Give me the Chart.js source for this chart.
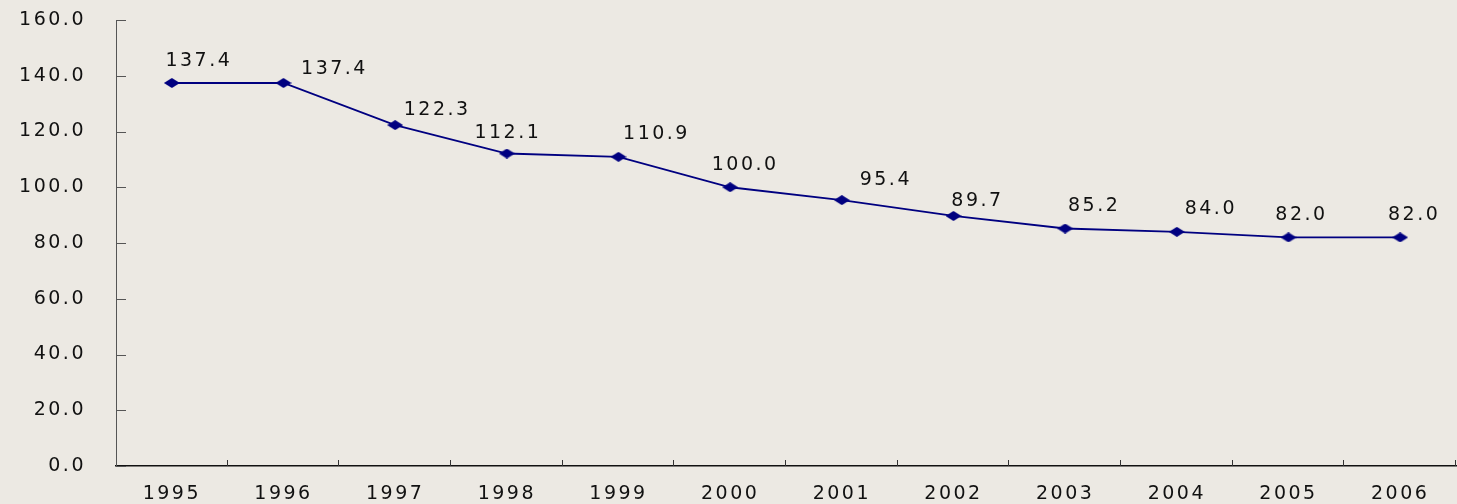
<!DOCTYPE html>
<html>
<head>
<meta charset="utf-8">
<script src="https://cdn.jsdelivr.net/npm/chart.js@4"></script>
<style>
  html, body { margin: 0; padding: 0; background: #ECE9E3; }
  #wrap { width: 1457px; height: 504px; }
</style>
</head>
<body>
<div id="wrap"><canvas id="chart" width="1457" height="504"></canvas></div>
<script>
// data
const years = ['1995', '1996', '1997', '1998', '1999', '2000', '2001', '2002', '2003', '2004', '2005', '2006'];
const values = [137.4, 137.4, 122.3, 112.1, 110.9, 100.0, 95.4, 89.7, 85.2, 84.0, 82.0, 82.0];
const yMin = 0;
const yMax = 160;
const yStep = 20;

// where each value label sits relative to its point (dx, dy in px)
const labelOffsets = [[27, -22], [51, -14], [42, -15], [1, -20], [38, -23], [15, -22],
                      [44, -20], [24, -15], [29, -22], [34, -23], [13, -22], [14, -22]];

const FONT = { family: '"DejaVu Sans", sans-serif', size: 19 };
const SPACING = '2.5px';

// flat diamond marker
const marker = document.createElement('canvas');
marker.width = 16;
marker.height = 10;
(function() {
    const c = marker.getContext('2d');
    c.fillStyle = '#000080';
    c.beginPath();
    c.moveTo(0, 5);
    c.lineTo(8, 0);
    c.lineTo(16, 5);
    c.lineTo(8, 10);
    c.closePath();
    c.fill();
})();

const spacingPlugin = {
    id: 'spacing',
    beforeUpdate(chart) { chart.ctx.letterSpacing = SPACING; },
    beforeDraw(chart) { chart.ctx.letterSpacing = SPACING; }
};

// stretch the x axis out to the right edge like the original
const stretchPlugin = {
    id: 'stretch',
    afterLayout(chart) {
        const x = chart.scales.x;
        const right = chart.width - 1;
        x.right = right;
        x.width = right - x.left;
        chart.chartArea.right = right;
        chart.chartArea.width = right - chart.chartArea.left;
        x.configure();
    }
};

// background + inward tick marks
const ticksPlugin = {
    id: 'inwardTicks',
    beforeDraw(chart) {
        const ctx = chart.ctx;
        ctx.save();
        ctx.fillStyle = '#ECE9E3';
        ctx.fillRect(0, 0, chart.width, chart.height);
        ctx.restore();
    },
    afterDraw(chart) {
        const ctx = chart.ctx;
        const x = chart.scales.x;
        const y = chart.scales.y;
        const area = chart.chartArea;
        ctx.save();
        ctx.lineWidth = 1;
        ctx.strokeStyle = '#555555';
        for (let v = yMin; v <= yMax; v += yStep) {
            const py = Math.round(y.getPixelForValue(v)) + 0.5;
            ctx.beginPath();
            ctx.moveTo(area.left, py);
            ctx.lineTo(area.left + 10, py);
            ctx.stroke();
        }
        ctx.strokeStyle = '#333333';
        const half = (x.getPixelForValue(1) - x.getPixelForValue(0)) / 2;
        for (let i = 0; i < years.length; i++) {
            const px = Math.min(Math.round(x.getPixelForValue(i) + half) - 0.5, chart.width - 1.5);
            ctx.beginPath();
            ctx.moveTo(px, area.bottom);
            ctx.lineTo(px, area.bottom - 6);
            ctx.stroke();
        }
        ctx.restore();
    }
};

// value labels next to the points
const labelsPlugin = {
    id: 'valueLabels',
    afterDatasetsDraw(chart) {
        const ctx = chart.ctx;
        const meta = chart.getDatasetMeta(0);
        ctx.save();
        ctx.letterSpacing = SPACING;
        ctx.font = FONT.size + 'px ' + FONT.family;
        ctx.fillStyle = '#111111';
        ctx.textAlign = 'center';
        ctx.textBaseline = 'middle';
        meta.data.forEach(function(pt, i) {
            const off = labelOffsets[i];
            ctx.fillText(values[i].toFixed(1), pt.x + off[0], pt.y + off[1]);
        });
        ctx.restore();
    }
};

new Chart(document.getElementById('chart'), {
    type: 'line',
    data: {
        labels: years,
        datasets: [{
            data: values,
            borderColor: '#000080',
            borderWidth: 1.8,
            pointStyle: marker,
            pointRadius: 8,
            tension: 0,
            fill: false
        }]
    },
    options: {
        responsive: false,
        animation: false,
        events: [],
        layout: { padding: 0 },
        plugins: {
            legend: { display: false },
            tooltip: { enabled: false }
        },
        scales: {
            x: {
                type: 'category',
                offset: true,
                grid: { display: false, drawTicks: false },
                border: { display: true, color: '#111111', width: 1.5 },
                ticks: {
                    color: '#111111',
                    font: FONT,
                    padding: 17,
                    maxRotation: 0,
                    autoSkip: false
                },
                afterFit(scale) {
                    scale.height = 38;
                    scale.paddingLeft = 0;
                    scale.paddingRight = 0;
                }
            },
            y: {
                min: yMin,
                max: yMax,
                grid: { display: false, drawTicks: false },
                border: { display: true, color: '#555555', width: 1 },
                ticks: {
                    stepSize: yStep,
                    color: '#111111',
                    font: FONT,
                    padding: 30,
                    callback: function(v) { return Number(v).toFixed(1); }
                },
                afterFit(scale) {
                    scale.width = 116;
                    scale.paddingTop = 20;
                    scale.paddingBottom = 0;
                }
            }
        }
    },
    plugins: [spacingPlugin, stretchPlugin, ticksPlugin, labelsPlugin]
});
</script>
</body>
</html>
